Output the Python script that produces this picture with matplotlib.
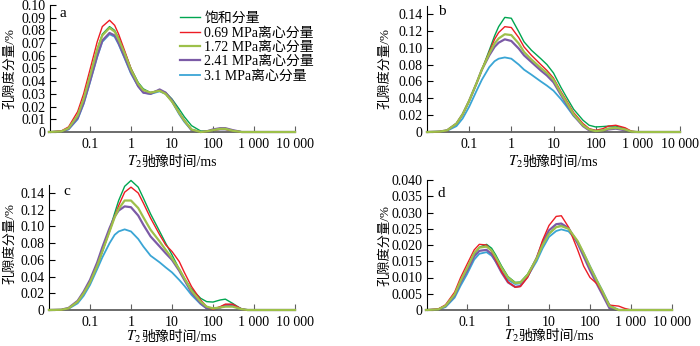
import matplotlib
matplotlib.use('Agg')
import matplotlib.pyplot as plt

plt.rcParams['font.family'] = ['Liberation Serif', 'Noto Sans CJK SC']
plt.rcParams['mathtext.fontset'] = 'stix'
plt.rcParams['font.size'] = 10

# T2 relaxation time grid (ms)
t2 = [0.01, 0.02, 0.03, 0.05, 0.07, 0.1, 0.15, 0.2, 0.3, 0.4, 0.5, 0.7,
      1, 1.5, 2, 3, 5, 7, 10, 15, 20, 30, 50, 70,
      100, 150, 200, 300, 500, 700, 1000, 2000, 5000, 10000]

series_names = ['饱和分量', '0.69 MPa离心分量', '1.72 MPa离心分量',
                '2.41 MPa离心分量', '3.1 MPa离心分量']

# panel a
a_sat = [0, 0.0005, 0.003, 0.013, 0.026, 0.044, 0.065, 0.077, 0.083, 0.080, 0.074, 0.063,
         0.050, 0.039, 0.034, 0.031, 0.033, 0.031, 0.026, 0.018, 0.012, 0.005, 0.0008, 0.0008,
         0.0015, 0.0028, 0.0027, 0.0012, 0.0002, 0, 0, 0, 0, 0]
a_069 = [0, 0.0008, 0.004, 0.016, 0.030, 0.049, 0.071, 0.083, 0.088, 0.084, 0.077, 0.064,
         0.050, 0.038, 0.033, 0.031, 0.0325, 0.030, 0.024, 0.015, 0.009, 0.002, 0, 0.0005,
         0.0015, 0.002, 0.002, 0.001, 0, 0, 0, 0, 0, 0]
a_172 = [0, 0.0005, 0.003, 0.013, 0.026, 0.044, 0.065, 0.076, 0.082, 0.079, 0.073, 0.062,
         0.049, 0.038, 0.033, 0.031, 0.0325, 0.030, 0.024, 0.015, 0.009, 0.002, 0, 0.0005,
         0.0015, 0.0025, 0.0025, 0.001, 0, 0, 0, 0, 0, 0]
a_241 = [0, 0.0004, 0.0025, 0.011, 0.023, 0.040, 0.060, 0.072, 0.078, 0.076, 0.070, 0.059,
         0.047, 0.036, 0.031, 0.030, 0.0335, 0.031, 0.025, 0.015, 0.009, 0.0015, 0, 0.0005,
         0.002, 0.003, 0.003, 0.0015, 0, 0, 0, 0, 0, 0]
a_31 = [0, 0.0003, 0.002, 0.010, 0.022, 0.039, 0.059, 0.071, 0.077, 0.075, 0.069, 0.058,
        0.046, 0.036, 0.031, 0.030, 0.032, 0.030, 0.024, 0.014, 0.008, 0.0015, 0, 0,
        0.0015, 0.002, 0.002, 0.001, 0, 0, 0, 0, 0, 0]

# panel b
b_sat = [0, 0.0005, 0.002, 0.010, 0.021, 0.037, 0.058, 0.074, 0.097, 0.114, 0.125, 0.136,
         0.135, 0.119, 0.107, 0.097, 0.087, 0.080, 0.070, 0.053, 0.042, 0.027, 0.014, 0.008,
         0.006, 0.0065, 0.007, 0.007, 0.004, 0.0005, 0, 0, 0, 0]
b_069 = [0, 0.0005, 0.002, 0.010, 0.021, 0.037, 0.058, 0.074, 0.095, 0.110, 0.118, 0.125,
         0.124, 0.112, 0.101, 0.091, 0.080, 0.073, 0.064, 0.048, 0.038, 0.023, 0.010, 0.004,
         0.002, 0.004, 0.007, 0.008, 0.005, 0.001, 0, 0, 0, 0]
b_172 = [0, 0.0005, 0.002, 0.010, 0.021, 0.037, 0.058, 0.074, 0.093, 0.105, 0.111, 0.116,
         0.115, 0.105, 0.095, 0.086, 0.076, 0.070, 0.062, 0.046, 0.036, 0.021, 0.008, 0.003,
         0.001, 0.002, 0.004, 0.005, 0.003, 0.0005, 0, 0, 0, 0]
b_241 = [0, 0.0005, 0.002, 0.010, 0.021, 0.037, 0.058, 0.074, 0.091, 0.101, 0.106, 0.110,
         0.108, 0.099, 0.091, 0.083, 0.073, 0.067, 0.059, 0.044, 0.034, 0.020, 0.007, 0.002,
         0.0005, 0.001, 0.003, 0.004, 0.002, 0, 0, 0, 0, 0]
b_31 = [0, 0.0003, 0.0015, 0.007, 0.016, 0.030, 0.049, 0.062, 0.077, 0.084, 0.087, 0.0885,
        0.087, 0.080, 0.074, 0.068, 0.060, 0.055, 0.049, 0.039, 0.031, 0.019, 0.008, 0.003,
        0.0015, 0.002, 0.004, 0.005, 0.003, 0.0005, 0, 0, 0, 0]

# panel c
c_sat = [0, 0.0003, 0.002, 0.010, 0.020, 0.033, 0.053, 0.070, 0.096, 0.116, 0.131, 0.148,
         0.155, 0.147, 0.134, 0.115, 0.094, 0.080, 0.066, 0.049, 0.038, 0.025, 0.014, 0.010,
         0.0095, 0.012, 0.013, 0.008, 0.001, 0, 0, 0, 0, 0]
c_069 = [0, 0.0003, 0.002, 0.010, 0.020, 0.033, 0.053, 0.070, 0.094, 0.112, 0.125, 0.141,
         0.147, 0.140, 0.128, 0.110, 0.090, 0.078, 0.070, 0.058, 0.045, 0.028, 0.012, 0.004,
         0.001, 0.004, 0.007, 0.007, 0.001, 0, 0, 0, 0, 0]
c_172 = [0, 0.0003, 0.002, 0.010, 0.020, 0.033, 0.053, 0.070, 0.094, 0.111, 0.121, 0.131,
         0.131, 0.122, 0.111, 0.096, 0.082, 0.072, 0.062, 0.049, 0.038, 0.023, 0.010, 0.004,
         0.002, 0.003, 0.004, 0.004, 0.001, 0, 0, 0, 0, 0]
c_241 = [0, 0.0004, 0.0025, 0.011, 0.022, 0.036, 0.057, 0.075, 0.098, 0.112, 0.119, 0.124,
         0.123, 0.113, 0.102, 0.088, 0.076, 0.068, 0.060, 0.047, 0.036, 0.021, 0.008, 0.002,
         0.0005, 0.003, 0.006, 0.006, 0.001, 0, 0, 0, 0, 0]
c_31 = [0, 0.0002, 0.0015, 0.008, 0.017, 0.030, 0.049, 0.063, 0.080, 0.090, 0.094, 0.0965,
        0.094, 0.085, 0.076, 0.065, 0.057, 0.051, 0.045, 0.036, 0.029, 0.018, 0.007, 0.002,
        0.001, 0.003, 0.005, 0.005, 0.001, 0, 0, 0, 0, 0]

# panel d
d_sat = [0, 0.0002, 0.0012, 0.0045, 0.0085, 0.0125, 0.0170, 0.0193, 0.0202, 0.0190, 0.0170, 0.0135,
         0.0103, 0.0085, 0.0086, 0.0110, 0.0160, 0.0200, 0.0235, 0.0255, 0.0260, 0.0250, 0.0210, 0.0172,
         0.0130, 0.0085, 0.0055, 0.0010, 0, 0, 0, 0, 0, 0]
d_069 = [0, 0.0003, 0.0016, 0.0055, 0.0100, 0.0140, 0.0185, 0.0202, 0.0200, 0.0180, 0.0155, 0.0118,
         0.0086, 0.0070, 0.0072, 0.0100, 0.0160, 0.0215, 0.0260, 0.0288, 0.0290, 0.0255, 0.0185, 0.0135,
         0.0100, 0.0080, 0.0055, 0.0015, 0.0012, 0.0005, 0, 0, 0, 0]
d_172 = [0, 0.0002, 0.0013, 0.0048, 0.0090, 0.0128, 0.0175, 0.0192, 0.0195, 0.0183, 0.0163, 0.0130,
         0.0100, 0.0083, 0.0084, 0.0108, 0.0158, 0.0200, 0.0234, 0.0255, 0.0258, 0.0250, 0.0212, 0.0175,
         0.0133, 0.0088, 0.0058, 0.0012, 0, 0, 0, 0, 0, 0]
d_241 = [0, 0.0002, 0.0012, 0.0045, 0.0085, 0.0120, 0.0165, 0.0182, 0.0185, 0.0172, 0.0150, 0.0115,
         0.0085, 0.0071, 0.0074, 0.0103, 0.0160, 0.0208, 0.0245, 0.0264, 0.0266, 0.0252, 0.0205, 0.0165,
         0.0122, 0.0078, 0.0048, 0.0005, 0, 0, 0, 0, 0, 0]
d_31 = [0, 0.0001, 0.0009, 0.0038, 0.0075, 0.0110, 0.0155, 0.0173, 0.0178, 0.0167, 0.0150, 0.0120,
        0.0093, 0.0080, 0.0082, 0.0103, 0.0150, 0.0190, 0.0225, 0.0243, 0.0248, 0.0242, 0.0210, 0.0175,
        0.0135, 0.0090, 0.0060, 0.0015, 0, 0, 0, 0, 0, 0]

x_ticks = [0.1, 1, 10, 100, 1000, 10000]
x_ticklabels = ['0.1', '1', '10', '100', '1 000', '10 000']

colors = ['#00a651', '#ed1c24', '#9dc04a', '#7b5aa6', '#3aa5d5']
widths = [1.0, 1.0, 1.6, 1.6, 1.3]
zorders = [2.0, 2.6, 3.0, 2.4, 2.2]

W, H = 700, 346
fig = plt.figure(figsize=(7, 3.46), dpi=100)

panels = [
    dict(box=(50, 295, 132, 5), xmin=0.0106, ymax=0.10, spine=0.10,
         yt=[i * 0.01 for i in range(11)],
         ytl=['0'] + ['%.2f' % (i * 0.01) for i in range(1, 11)],
         data=[a_sat, a_069, a_172, a_241, a_31], tag='a', tagpos=(0.053, 0.935),
         ylab=-0.137, xlab=-0.19),
    dict(box=(427, 680, 132, 5.6), xmin=0.01, ymax=0.15, spine=0.15,
         yt=[i * 0.02 for i in range(8)],
         ytl=['0'] + ['%.2f' % (i * 0.02) for i in range(1, 8)],
         data=[b_sat, b_069, b_172, b_241, b_31], tag='b', tagpos=(0.06, 0.95),
         ylab=-0.142, xlab=-0.19),
    dict(box=(49, 295, 310, 176.3), xmin=0.01, ymax=0.16, spine=0.15,
         yt=[i * 0.02 for i in range(8)],
         ytl=['0'] + ['%.2f' % (i * 0.02) for i in range(1, 8)],
         data=[c_sat, c_069, c_172, c_241, c_31], tag='c', tagpos=(0.073, 0.89),
         ylab=-0.134, xlab=-0.155),
    dict(box=(427, 672, 310, 180), xmin=0.0106, ymax=0.04, spine=0.04,
         yt=[i * 0.005 for i in range(9)],
         ytl=['0'] + ['%.3f' % (i * 0.005) for i in range(1, 9)],
         data=[d_sat, d_069, d_172, d_241, d_31], tag='d', tagpos=(0.06, 0.9),
         ylab=-0.147, xlab=-0.155),
]

axes = []
for p in panels:
    l, r, b, t = p['box']
    ax = fig.add_axes([l / W, 1 - b / H, (r - l) / W, (b - t) / H])
    lines = []
    for vals, c, lw, z, name in zip(p['data'], colors, widths, zorders, series_names):
        ln, = ax.plot(t2, vals, color=c, lw=lw, zorder=z, label=name, clip_on=False)
        lines.append(ln)
    ax.set_xscale('log')
    ax.set_xlim(p['xmin'], 10000)
    ax.set_ylim(0, p['ymax'])
    ax.set_xticks(x_ticks)
    ax.set_xticklabels(x_ticklabels)
    ax.minorticks_off()
    ax.set_yticks(p['yt'])
    ax.set_yticklabels(p['ytl'])
    for s in ['top', 'right']:
        ax.spines[s].set_visible(False)
    ax.spines['left'].set_bounds(0, p['spine'])
    ax.spines['left'].set_linewidth(0.8)
    ax.spines['bottom'].set_color('#606060')
    ax.spines['bottom'].set_linewidth(1.3)
    ax.tick_params(axis='x', direction='in', length=4, width=0.8, color='#606060', pad=4, labelsize=10)
    ax.tick_params(axis='y', direction='in', length=4, width=0.8, pad=3, labelsize=10)
    ax.set_ylabel('孔隙度分量/%', fontsize=9.5)
    ax.yaxis.set_label_coords(p['ylab'], 0.5)
    # x label: "T2" part drawn next to the CJK part
    ax.set_xlabel('驰豫时间/ms', fontsize=10)
    ax.xaxis.set_label_coords(0.5 + 7.0 / (r - l), p['xlab'])
    ax.annotate(r'$T_\mathrm{2}$', xy=(0, 0.5), xycoords=ax.xaxis.label,
                xytext=(0, 0.5), textcoords='offset points',
                ha='right', va='center', fontsize=10.5)
    ax.text(p['tagpos'][0], p['tagpos'][1], p['tag'], transform=ax.transAxes,
            ha='center', va='center', fontsize=11)
    axes.append((ax, lines))

ax_a, lines_a = axes[0]
ax_a.legend(lines_a, series_names, loc='upper left', frameon=False,
            bbox_to_anchor=(180 / W, 1 - 12 / H), bbox_transform=fig.transFigure,
            borderpad=0, borderaxespad=0, fontsize=10, handlelength=1.45,
            handletextpad=0.3, labelspacing=0.1)

fig.savefig('out.png', dpi=100)
